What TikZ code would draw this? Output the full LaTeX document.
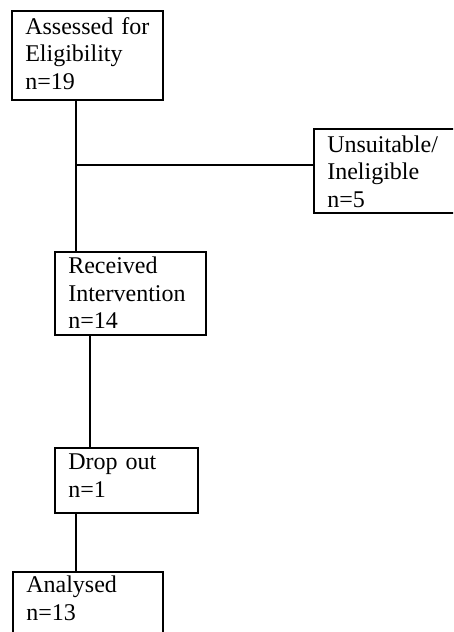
\documentclass[tikz,border=0pt]{standalone}
\usepackage{fontspec}
\setmainfont{Liberation Serif}
\begin{document}
\begin{tikzpicture}[x=1pt,y=-1pt,
  flowbox/.style={draw=black, line width=1.6pt, anchor=north west, align=left,
    inner xsep=13.5pt, inner ysep=0pt,
    font=\fontsize{24}{27.5}\selectfont},
  conn/.style={draw=black, line width=1.1pt}]
\path[use as bounding box, clip] (0,0) rectangle (453,632);
\fill[white] (0,0) rectangle (453,632);
\node[flowbox, text width=124pt, text height=23.5pt, text depth=65.5pt] (b1) at (11,10)
  {Assessed for\\Eligibility\\n=19};
\node[flowbox, text width=140pt, text height=23.5pt, text depth=60.5pt] (b2) at (313,128)
  {Unsuitable/\\Ineligible\\n=5};
\node[flowbox, text width=124pt, text height=22pt, text depth=61pt] (b3) at (54,251)
  {Received\\Intervention\\n=14};
\node[flowbox, text width=116pt, text height=22pt, text depth=43pt] (b4) at (54,447)
  {Drop out\\n=1};
\node[flowbox, text width=123pt, text height=21pt, text depth=70pt] (b5) at (12,571)
  {Analysed\\n=13};
\coordinate (j) at (76,165);
\coordinate (k) at (90,0);
\draw[conn] (j |- b1.south) -- (j |- b3.north);
\draw[conn] (j) -- (b2.west |- j);
\draw[conn] (k |- b3.south) -- (k |- b4.north);
\draw[conn] (j |- b4.south) -- (j |- b5.north);
\end{tikzpicture}
\end{document}
